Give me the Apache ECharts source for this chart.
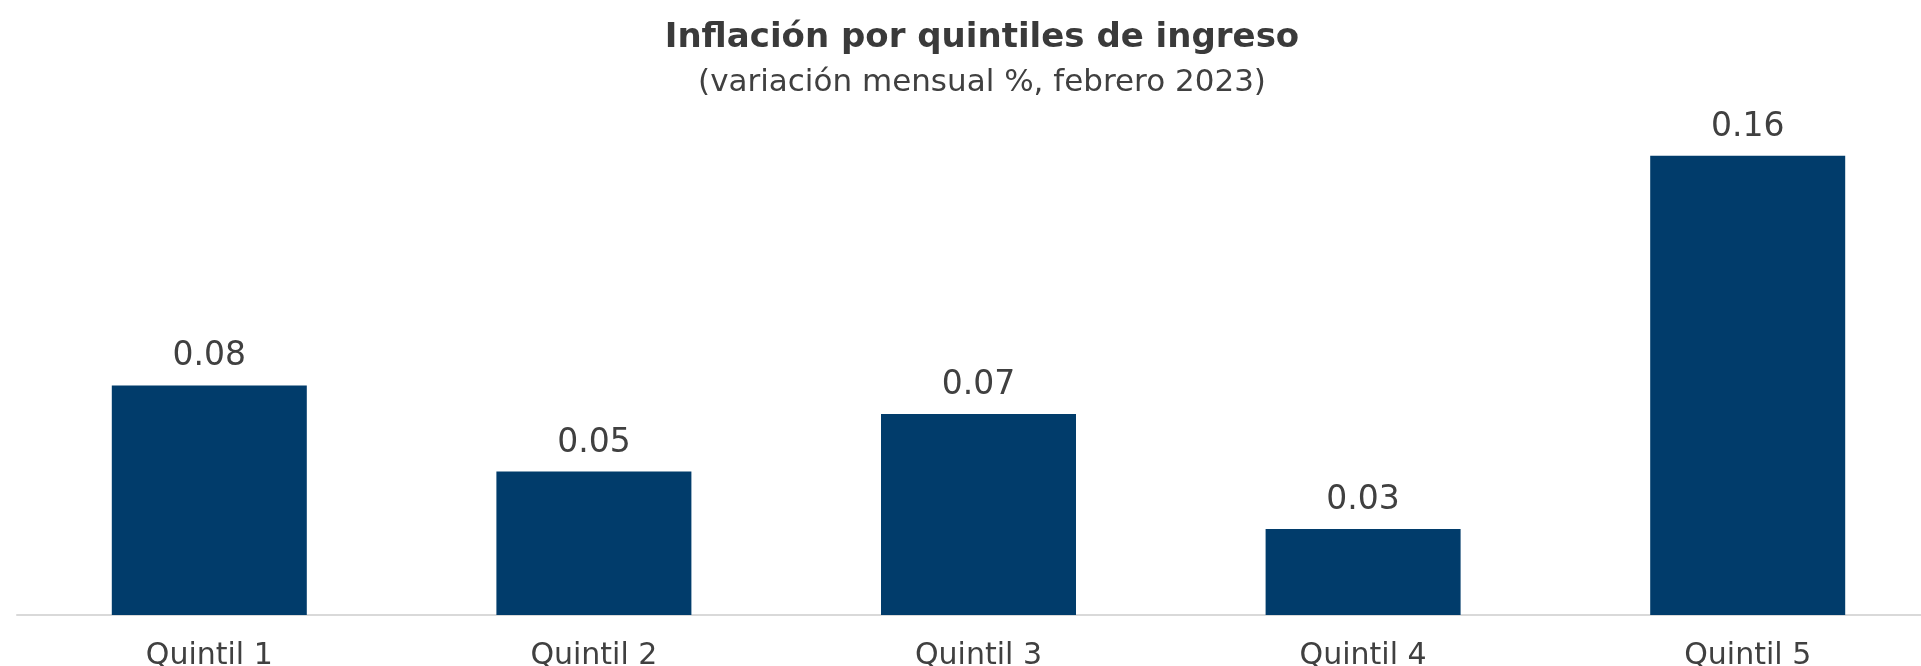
<!DOCTYPE html>
<html>
<head>
<meta charset="utf-8">
<script src="https://cdn.jsdelivr.net/npm/echarts@6/dist/echarts.min.js"></script>
<style>
	html, body { margin: 0; padding: 0; background: #fff; }
	#chart { width: 1921px; height: 666px; }
</style>
</head>
<body>
<div id="chart"></div>
<script>
var categories = [ 'Quintil 1', 'Quintil 2', 'Quintil 3', 'Quintil 4', 'Quintil 5' ];
var values = [ 0.08, 0.05, 0.07, 0.03, 0.16 ];

var chart = echarts.init(document.getElementById('chart'));
var option = {
	animation : false,
	title : {
		text : 'Inflación por quintiles de ingreso',
		subtext : '(variación mensual %, febrero 2023)',
		left : 977,
		textAlign : 'center',
		top : 16,
		itemGap : 12,
		textStyle : {
			fontFamily : 'DejaVu Sans',
			fontSize : 34,
			fontWeight : 'bold',
			color : '#3a3a3a'
		},
		subtextStyle : {
			fontFamily : 'DejaVu Sans',
			fontSize : 31,
			color : '#404040'
		}
	},
	grid : {
		left : 17,
		width : 1923,
		top : 41,
		bottom : 51,
		containLabel : false,
		outerBoundsMode : 'none'
	},
	xAxis : {
		type : 'category',
		data : categories,
		axisLine : {
			lineStyle : { color : '#d9d9d9', width : 2 }
		},
		axisTick : { show : false },
		axisLabel : {
			margin : 26,
			fontFamily : 'DejaVu Sans',
			fontSize : 30,
			color : '#404040'
		}
	},
	yAxis : {
		type : 'value',
		min : 0,
		max : 0.2,
		show : false,
		splitLine : { show : false }
	},
	series : [ {
		type : 'bar',
		data : values,
		barWidth : 195,
		itemStyle : { color : '#013c6b' },
		label : {
			show : true,
			position : 'top',
			distance : 12,
			fontFamily : 'DejaVu Sans',
			fontSize : 33,
			color : '#404040',
			formatter : function(p) {
				return p.value.toFixed(2);
			}
		}
	} ]
};
chart.setOption(option);
</script>
</body>
</html>
